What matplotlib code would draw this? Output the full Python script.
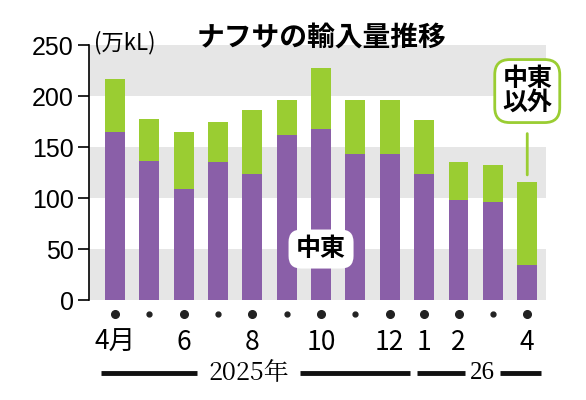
import matplotlib
matplotlib.use("Agg")
import matplotlib.pyplot as plt
import numpy as np

plt.rcParams['font.family'] = ['Noto Sans CJK JP', 'DejaVu Sans']

months = ["4月", "", "6", "", "8", "", "10", "", "12", "1", "2", "", "4"]
middle_east = [165, 136, 109, 135, 124, 162, 168, 143, 143, 124, 98, 96, 34]
total = [217, 178, 165, 175, 186, 196, 228, 196, 196, 177, 135, 132, 116]
other = [t - m for t, m in zip(total, middle_east)]
yticks = [0, 50, 100, 150, 200, 250]

purple = "#8a5fa8"
green = "#9acd32"

fig = plt.figure(figsize=(5.86, 4.0), dpi=100)
ax = fig.add_axes([0.152, 0.25, 0.78, 0.637])
x = np.arange(len(months))
ax.set_xlim(-0.75, len(months) - 0.45)
ax.set_ylim(0, 250)
for lo in (0, 100, 200):
    ax.axhspan(lo, lo + 50, color="#e6e6e6", zorder=0, lw=0)
ax.bar(x, middle_east, width=0.58, color=purple, zorder=2)
ax.bar(x, other, bottom=middle_east, width=0.58, color=green, zorder=2)

ax.set_yticks(yticks)
ax.set_yticklabels([str(v) for v in yticks], fontsize=18, family=['Liberation Sans', 'DejaVu Sans'])
ax.tick_params(axis='y', length=8, width=1.2, pad=3)
ax.set_xticks([])
for s in ("top", "right", "bottom"):
    ax.spines[s].set_visible(False)
ax.spines["left"].set_linewidth(1.2)

for i, lab in enumerate(months):
    big = i % 2 == 0 or i == 9
    ax.plot(i, -14, 'o', color="#222", ms=5.5 if big else 3.5, clip_on=False)
    if lab:
        ax.text(i, -28, lab, ha="center", va="top", fontsize=19, clip_on=False)

ax.plot([-0.4, 2.4], [-72, -72], color="#111", lw=3.5, clip_on=False, solid_capstyle="butt")
ax.plot([5.4, 8.6], [-72, -72], color="#111", lw=3.5, clip_on=False, solid_capstyle="butt")
ax.text(3.9, -72, "2025年", ha="center", va="center", fontsize=18, family=['Noto Serif CJK JP', 'Noto Sans CJK JP'], clip_on=False)
ax.plot([8.8, 10.2], [-72, -72], color="#111", lw=3.5, clip_on=False, solid_capstyle="butt")
ax.plot([11.2, 12.4], [-72, -72], color="#111", lw=3.5, clip_on=False, solid_capstyle="butt")
ax.text(10.7, -72, "26", ha="center", va="center", fontsize=18, family=['Liberation Serif'], clip_on=False)

fig.text(0.16, 0.893, "(万kL)", fontsize=16, ha="left", va="center")
fig.text(0.335, 0.905, "ナフサの輸入量推移", fontsize=20, fontweight="bold", ha="left", va="center")

ax.text(6.0, 50, "中東", fontsize=18, fontweight="bold", ha="center", va="center", zorder=5,
        bbox=dict(boxstyle="round,pad=0.3,rounding_size=0.5", fc="white", ec="none"))
ax.text(12.0, 205, "中東\n以外", fontsize=18, fontweight="bold", ha="center", va="center", zorder=5,
        linespacing=1.0,
        bbox=dict(boxstyle="round,pad=0.3,rounding_size=0.6", fc="white", ec=green, lw=2))
ax.annotate("", xy=(12.0, 120), xytext=(12.0, 166),
            arrowprops=dict(arrowstyle="-", color=green, lw=2), zorder=4)

fig.savefig("out.png", dpi=100)
